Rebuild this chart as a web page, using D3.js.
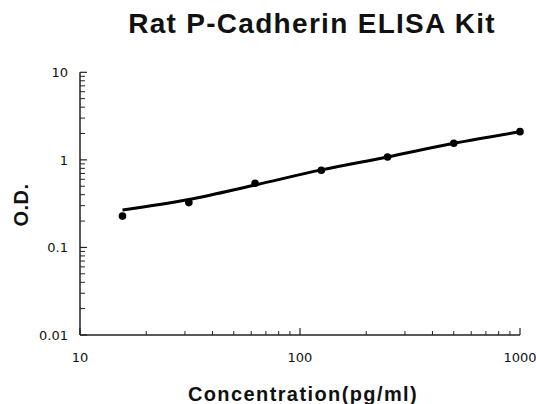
<!DOCTYPE html>
<html>
<head>
<meta charset="utf-8">
<script src="https://cdn.jsdelivr.net/npm/d3@7"></script>
<style>
    body { margin: 0; background: #fff; }
    svg { display: block; }
</style>
</head>
<body>
<div id="chart-area"></div>
<script>
// standard concentrations (pg/ml) and measured O.D.
const concentrations = [15.6, 31.25, 62.5, 125, 250, 500, 1000];
const odValues = [0.228, 0.325, 0.54, 0.76, 1.08, 1.55, 2.10];
// fitted standard curve at the same concentrations
const fitValues = [0.267, 0.353, 0.517, 0.768, 1.08, 1.545, 2.093];
const xTickValues = [10, 100, 1000];
const yTickValues = [0.01, 0.1, 1, 10];

function drawChart() {
    const width = 536, height = 404;
    const svg = d3.select("#chart-area")
        .append("svg")
        .attr("width", width)
        .attr("height", height);

    const xScale = d3.scaleLog()
        .domain([10, 1000])
        .range([80, 520]);
    const yScale = d3.scaleLog()
        .domain([0.01, 10])
        .range([335, 72.3]);

    // minor ticks 2..9 for each decade
    const minor = (lo, hi) => {
        const out = [];
        for (let d = lo; d < hi; d *= 10) {
            for (let k = 2; k <= 9; k++) out.push(d * k);
        }
        return out;
    };

    const axisColor = "#222";

    // y axis
    const yAxis = svg.append("g").attr("class", "y axis");
    yAxis.append("line")
        .attr("x1", 80).attr("x2", 80)
        .attr("y1", yScale(10)).attr("y2", yScale(0.01))
        .attr("stroke", axisColor).attr("stroke-width", 1.5);
    yAxis.selectAll(".minor")
        .data(minor(0.01, 10))
        .enter().append("line")
        .attr("x1", 80).attr("x2", 85)
        .attr("y1", (d) => yScale(d)).attr("y2", (d) => yScale(d))
        .attr("stroke", axisColor).attr("stroke-width", 1);
    yAxis.selectAll(".major")
        .data(yTickValues)
        .enter().append("line")
        .attr("x1", 80).attr("x2", 87)
        .attr("y1", (d) => yScale(d)).attr("y2", (d) => yScale(d))
        .attr("stroke", axisColor).attr("stroke-width", 1.2);
    yAxis.selectAll("text")
        .data(yTickValues)
        .enter().append("text")
        .attr("x", 68)
        .attr("y", (d) => yScale(d))
        .attr("dy", "0.36em")
        .attr("text-anchor", "end")
        .attr("font-family", "DejaVu Sans")
        .attr("font-size", "13px")
        .attr("fill", "#111")
        .text((d) => d);

    // x axis
    const xAxis = svg.append("g").attr("class", "x axis");
    xAxis.append("line")
        .attr("x1", xScale(10)).attr("x2", xScale(1000))
        .attr("y1", 335).attr("y2", 335)
        .attr("stroke", axisColor).attr("stroke-width", 1.5);
    xAxis.selectAll(".minor")
        .data(minor(10, 1000))
        .enter().append("line")
        .attr("x1", (d) => xScale(d)).attr("x2", (d) => xScale(d))
        .attr("y1", 335).attr("y2", 331)
        .attr("stroke", axisColor).attr("stroke-width", 1);
    xAxis.selectAll(".major")
        .data(xTickValues)
        .enter().append("line")
        .attr("x1", (d) => xScale(d)).attr("x2", (d) => xScale(d))
        .attr("y1", 335).attr("y2", 328)
        .attr("stroke", axisColor).attr("stroke-width", 1.2);
    xAxis.selectAll("text")
        .data(xTickValues)
        .enter().append("text")
        .attr("x", (d) => xScale(d))
        .attr("y", 362)
        .attr("text-anchor", "middle")
        .attr("font-family", "DejaVu Sans")
        .attr("font-size", "13px")
        .attr("fill", "#111")
        .text((d) => d);

    // fitted curve
    const fit = concentrations.map((c, i) => ({ x: c, y: fitValues[i] }));
    const line = d3.line()
        .x((d) => xScale(d.x))
        .y((d) => yScale(d.y))
        .curve(d3.curveMonotoneX);
    svg.append("path")
        .attr("class", "fit-line")
        .attr("fill", "none")
        .attr("stroke", "#000")
        .attr("stroke-width", 3)
        .attr("d", line(fit));

    // standards
    svg.selectAll("circle")
        .data(concentrations.map((c, i) => ({ x: c, y: odValues[i] })))
        .enter().append("circle")
        .attr("cx", (d) => xScale(d.x))
        .attr("cy", (d) => yScale(d.y))
        .attr("r", 3.8)
        .attr("fill", "#000");

    // titles
    svg.append("text")
        .attr("x", 312)
        .attr("y", 33)
        .attr("text-anchor", "middle")
        .attr("font-family", "Liberation Sans, Arial")
        .attr("font-weight", "bold")
        .attr("font-size", "28px")
        .attr("letter-spacing", "1.3px")
        .attr("fill", "#111")
        .text("Rat P-Cadherin ELISA Kit");

    svg.append("text")
        .attr("x", 303)
        .attr("y", 401)
        .attr("text-anchor", "middle")
        .attr("font-family", "Liberation Sans, Arial")
        .attr("font-weight", "bold")
        .attr("font-size", "20px")
        .attr("letter-spacing", "1.4px")
        .attr("fill", "#111")
        .text("Concentration(pg/ml)");

    svg.append("text")
        .attr("transform", "translate(28,205) rotate(-90)")
        .attr("text-anchor", "middle")
        .attr("font-family", "Liberation Sans, Arial")
        .attr("font-weight", "bold")
        .attr("font-size", "20px")
        .attr("letter-spacing", "0.5px")
        .attr("fill", "#111")
        .text("O.D.");
}

drawChart();
</script>
</body>
</html>
